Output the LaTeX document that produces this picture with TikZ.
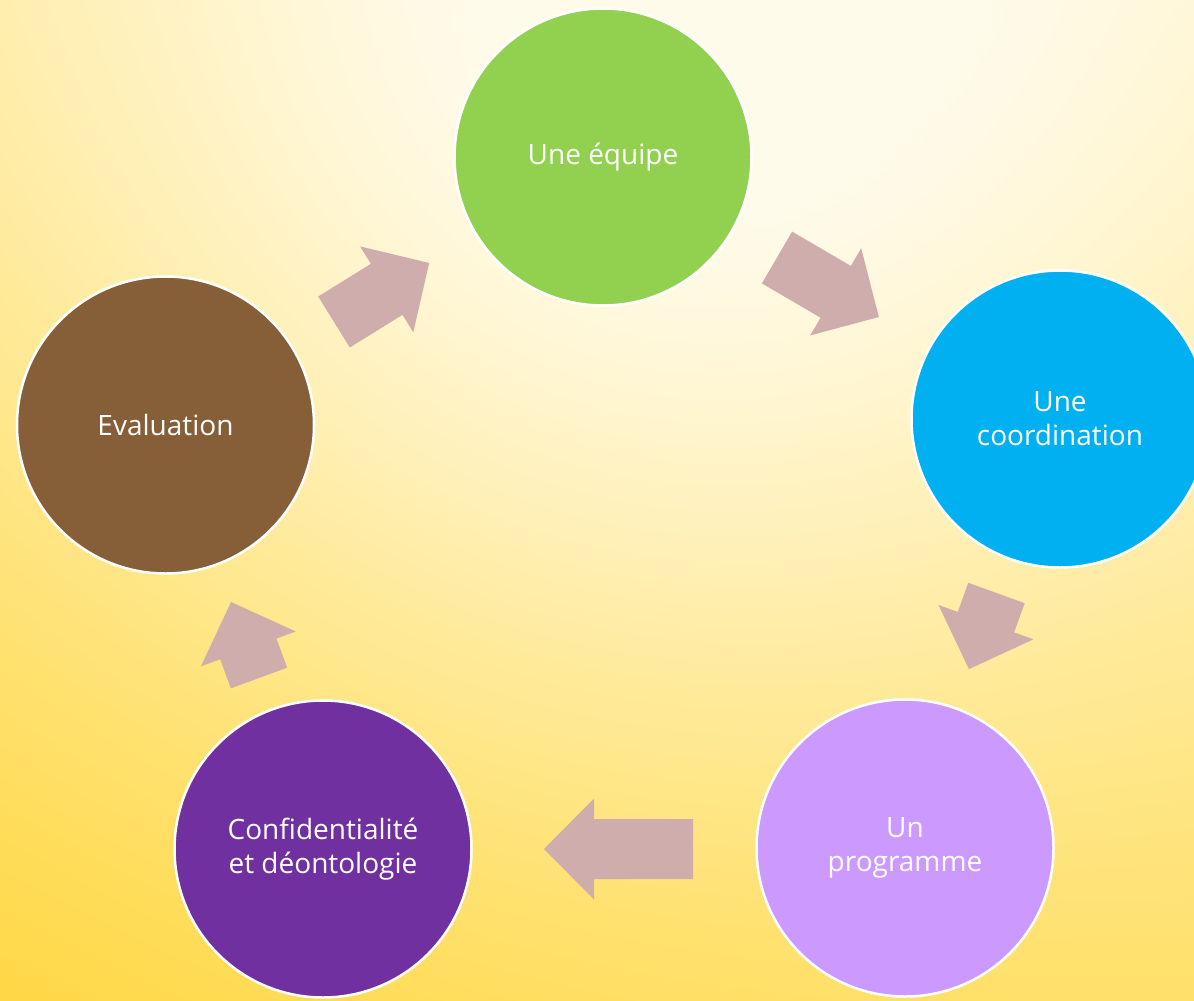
\documentclass[tikz,border=0pt]{standalone}
\usepackage{fontspec}
\setmainfont{Open Sans}
\definecolor{cgreen}{HTML}{92D050}
\definecolor{cblue}{HTML}{00B0F0}
\definecolor{clav}{HTML}{CC99FF}
\definecolor{cpurple}{HTML}{7030A0}
\definecolor{cbrown}{HTML}{865E38}
\definecolor{arrowc}{HTML}{CFADAD}
\pgfdeclarefunctionalshading{bgshade}{\pgfpointorigin}{\pgfpoint{100bp}{100bp}}{}{
  100 div neg 1 add
  exch 100 div
  2 copy
  neg 1 add 0.326 mul
  exch 0.75 mul add 0.03 add
  3 1 roll
  0.5193 sub 3.618 mul dup mul
  exch 0.3297 sub 3.033 mul dup mul add
  neg 2.71828 exch exp 0.45 mul
  sub
  dup 0 lt {pop 0} if
  dup 1 gt {pop 1} if
  1 exch
  dup -0.1686 mul 0.9843 add
  exch -0.8039 mul 0.9216 add
}
\tikzset{
  stage/.style={circle, draw=white, line width=2.5pt, minimum size=297pt,
    inner sep=0pt, text=white, align=center,
    font=\fontsize{28}{34}\selectfont},
  arrowfill/.style={fill=arrowc},
  pics/blockarrow/.style={code={
    \fill[arrowfill] (0,-30) -- ({#1-50},-30) -- ({#1-50},-50.5) -- (#1,0)
      -- ({#1-50},50.5) -- ({#1-50},30) -- (0,30) -- cycle;}}
}
\begin{document}
\begin{tikzpicture}[x=1pt,y=-1pt]
\useasboundingbox (0,0) rectangle (1194,1001);
\clip (0,0) rectangle (1194,1001);
\shade[shading=bgshade] (0,0) rectangle (1194,1001);

\node[stage, fill=cgreen]  (equipe) at (603,157) {Une équipe};
\node[stage, fill=cblue]   (coord)  at (1060,419) {Une\\coordination};
\node[stage, fill=clav]    (prog)   at (905,848) {Un\\programme};
\node[stage, fill=cpurple] (conf)   at (323,849) {Confidentialité\\et déontologie};
\node[stage, fill=cbrown]  (eval)   at (165.5,425) {Evaluation};

\pic[rotate=31.8]  (a1) at (334,322)   {blockarrow=112};
\pic[rotate=-30.3] (a2) at (777,257.5) {blockarrow=118};
\pic[rotate=250.1] (a3) at (996.5,593) {blockarrow=81};
\pic[rotate=180]   (a4) at (693,849)   {blockarrow=149};
\pic[rotate=110.2] (a5) at (259,678)   {blockarrow=81};
\end{tikzpicture}
\end{document}
